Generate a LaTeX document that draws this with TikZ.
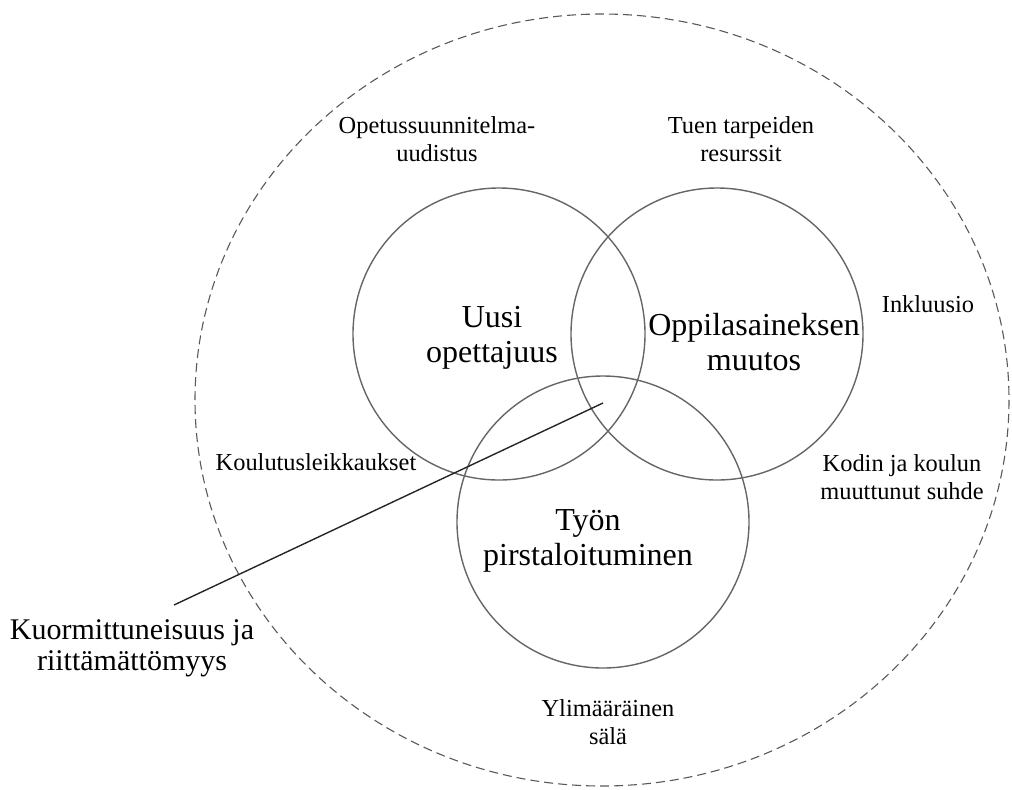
\documentclass[tikz,border=0pt]{standalone}
\usepackage{fontspec}
\setmainfont{Liberation Serif}
\begin{document}
\begin{tikzpicture}[
        x=0.5pt, y=-0.5pt,
        pallo/.style={circle, draw=black!60, line width=0.7pt, minimum size=146pt, inner sep=0pt},
        iso/.style={align=center, font=\fontsize{16}{17.5}\selectfont},
        pieni/.style={align=center, font=\fontsize{12.2}{13.8}\selectfont},
    ]
        \useasboundingbox (0,0) rectangle (1012,789);
        % ulompi katkoviiva
        \draw[black!65, line width=0.55pt, dash pattern=on 4.5pt off 2.5pt]
            (602,400) ellipse [x radius=407, y radius=386];

        % kolme ympyraa
        \node[pallo] (opettajuus) at (499,334) {};
        \node[pallo] (oppilas) at (717,334) {};
        \node[pallo] (tyo) at (603,522) {};

        \node[iso] (uusi) at (492,338) {Uusi\\opettajuus};
        \node[iso] (muutos) at (754,342) {Oppilasaineksen\\muutos};
        \node[iso] (pirstal) at (588,541) {Työn\\pirstaloituminen};

        % tekijat ympyroiden ulkopuolella
        \node[pieni] (ops) at (437,139) {Opetussuunnitelma-\\uudistus};
        \node[pieni] (tuki) at (741,139) {Tuen tarpeiden\\resurssit};
        \node[pieni] (inkl) at (928,304) {Inkluusio};
        \node[pieni] (koti) at (902,477) {Kodin ja koulun\\muuttunut suhde};
        \node[pieni] (leikk) at (316,462) {Koulutusleikkaukset};
        \node[pieni] (sala) at (608,722) {Ylimääräinen\\sälä};
        \node[iso, font=\fontsize{15}{15.5}\selectfont] (kuorm) at (132,648) {Kuormittuneisuus ja\\riittämättömyys};

        \coordinate (kuorm-end) at (174,605);
        \coordinate (keskus) at (603,403);
        \draw[black!85, line width=0.7pt] (kuorm-end) -- (keskus);
    \end{tikzpicture}
\end{document}
